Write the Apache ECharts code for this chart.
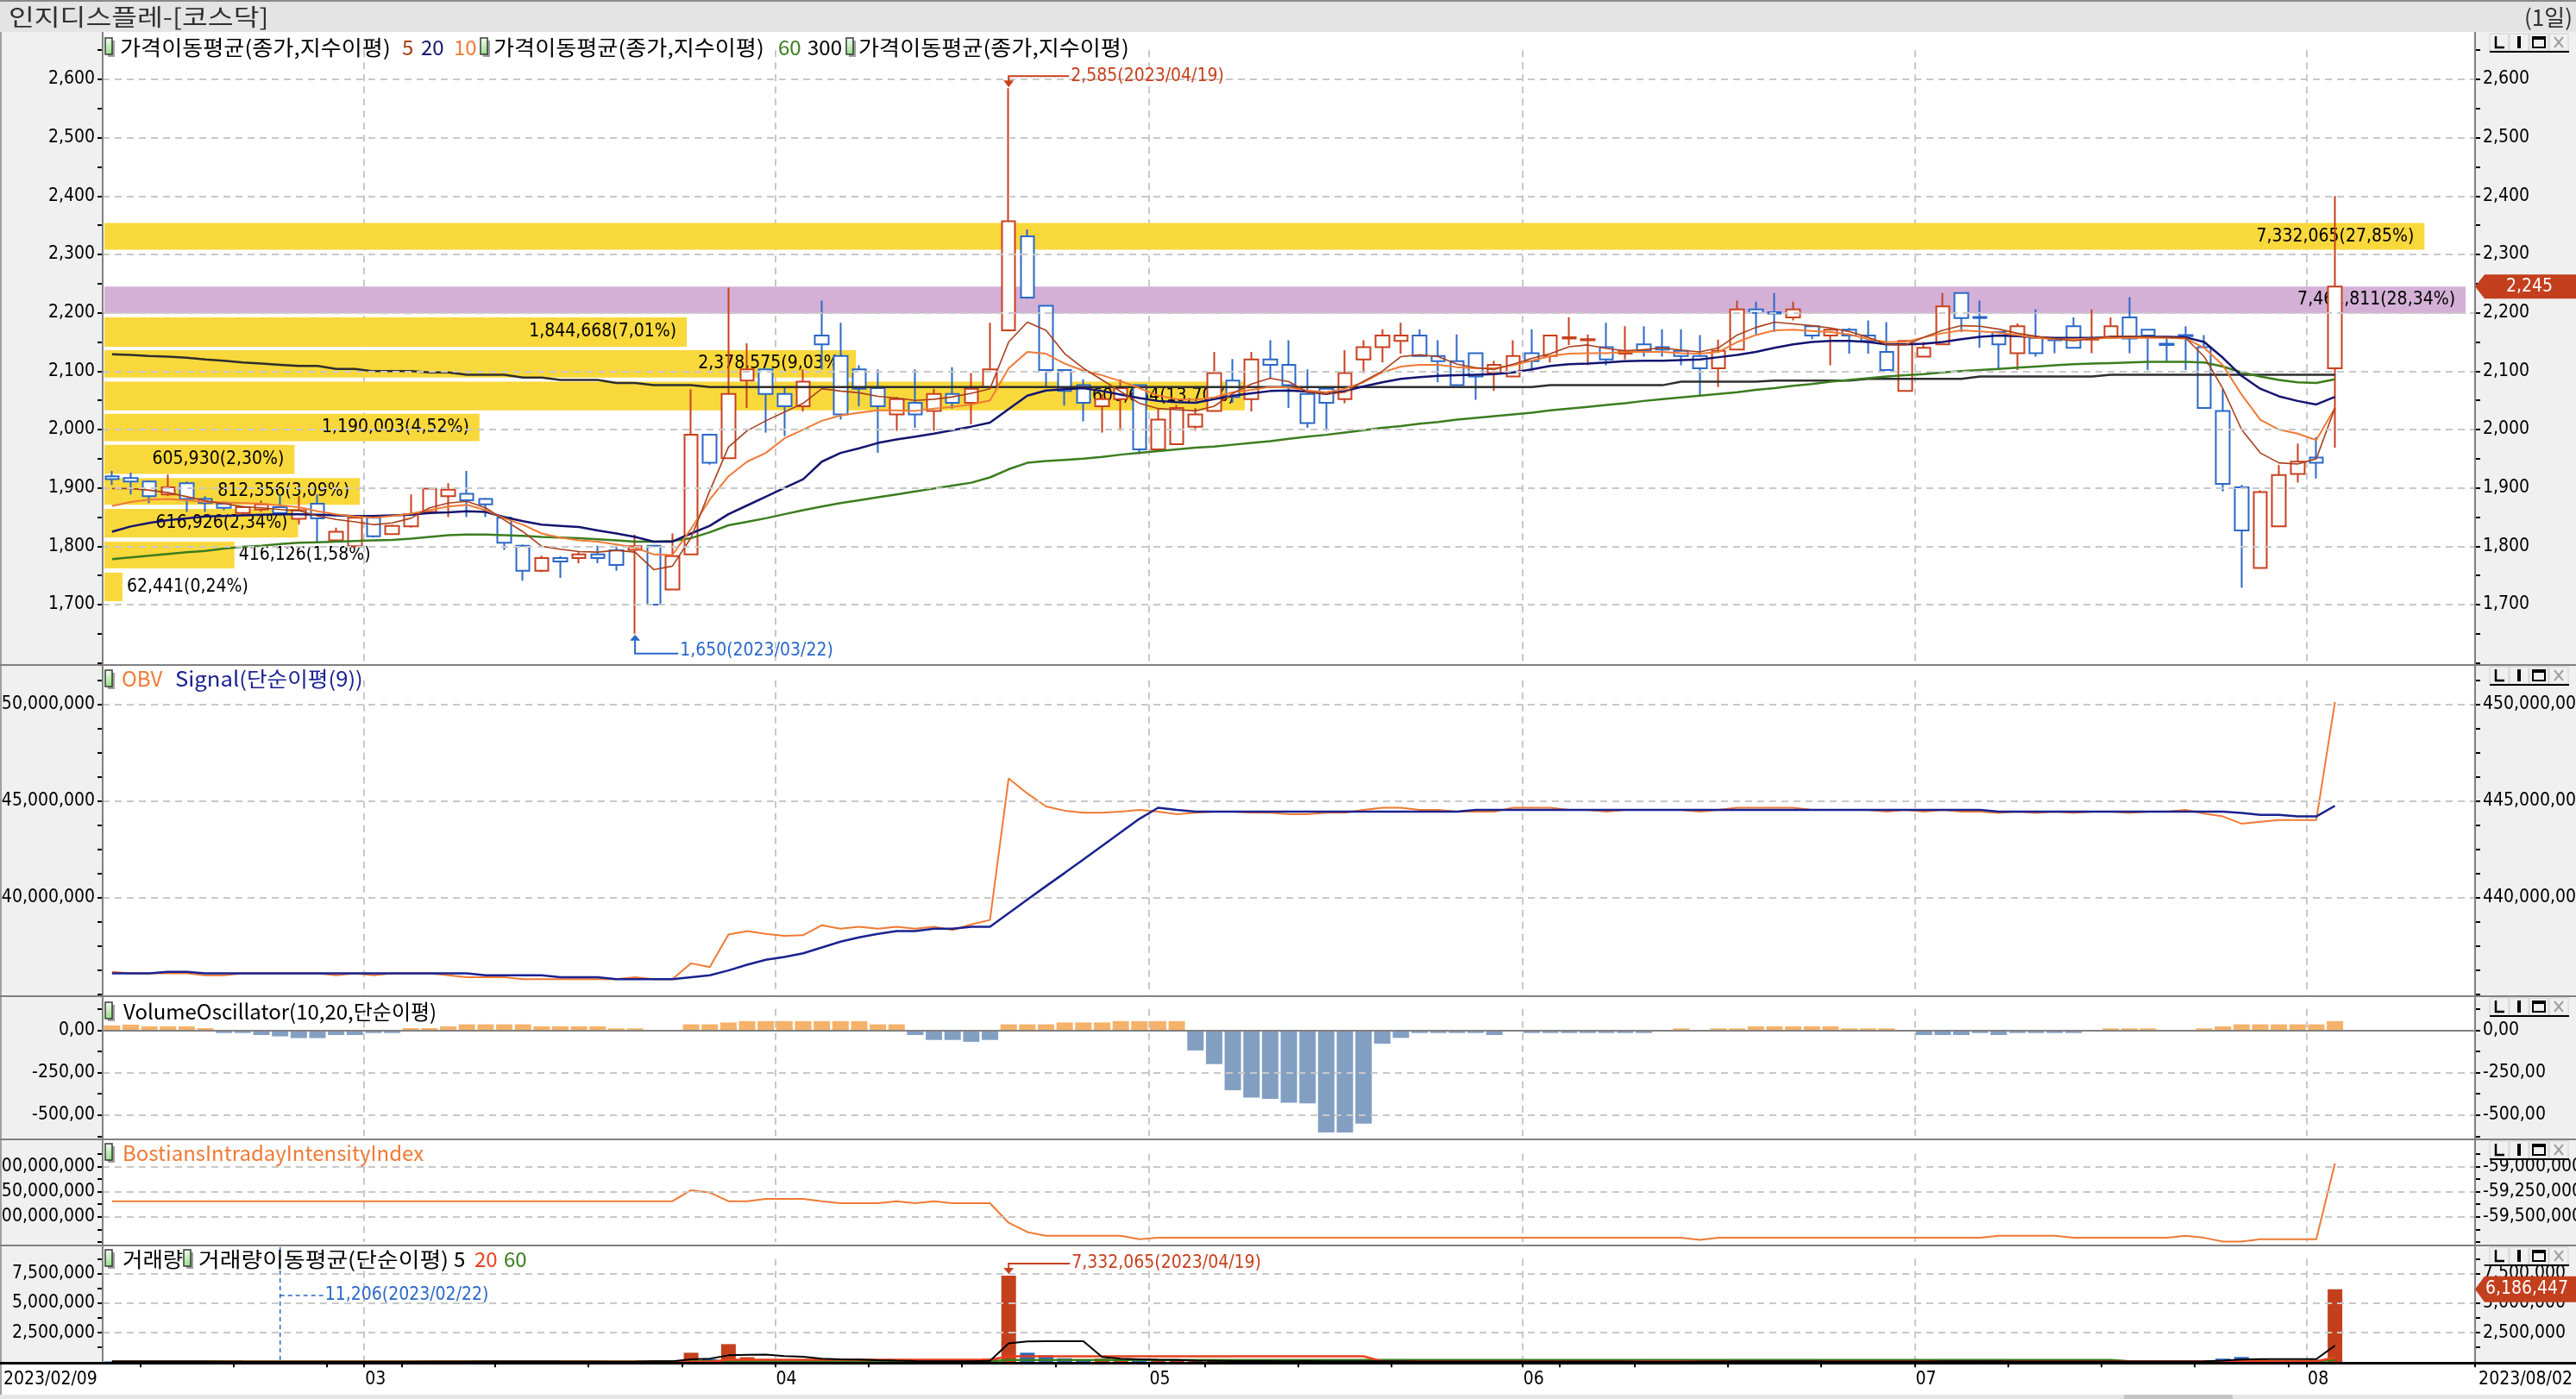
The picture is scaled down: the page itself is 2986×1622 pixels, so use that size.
<!DOCTYPE html>
<html><head><meta charset="utf-8"><title>인지디스플레-[코스닥]</title>
<script src="https://cdn.jsdelivr.net/npm/echarts@6.0.0/dist/echarts.min.js"></script>
<style>html,body{margin:0;padding:0;background:#fff;overflow:hidden;}#c{width:2986px;height:1622px;}</style>
</head><body><div id="c"></div>
<script>
// ---------------- DATA ----------------
const dates = ['2023-02-09','2023-02-10','2023-02-13','2023-02-14','2023-02-15','2023-02-16','2023-02-17','2023-02-20','2023-02-21','2023-02-22','2023-02-23','2023-02-24','2023-02-27','2023-02-28',
'2023-03-02','2023-03-03','2023-03-06','2023-03-07','2023-03-08','2023-03-09','2023-03-10','2023-03-13','2023-03-14','2023-03-15','2023-03-16','2023-03-17','2023-03-20','2023-03-21','2023-03-22','2023-03-23','2023-03-24','2023-03-27','2023-03-28','2023-03-29','2023-03-30','2023-03-31',
'2023-04-03','2023-04-04','2023-04-05','2023-04-06','2023-04-07','2023-04-10','2023-04-11','2023-04-12','2023-04-13','2023-04-14','2023-04-17','2023-04-18','2023-04-19','2023-04-20','2023-04-21','2023-04-24','2023-04-25','2023-04-26','2023-04-27','2023-04-28',
'2023-05-02','2023-05-03','2023-05-04','2023-05-08','2023-05-09','2023-05-10','2023-05-11','2023-05-12','2023-05-15','2023-05-16','2023-05-17','2023-05-18','2023-05-19','2023-05-22','2023-05-23','2023-05-24','2023-05-25','2023-05-26','2023-05-30','2023-05-31',
'2023-06-01','2023-06-02','2023-06-05','2023-06-07','2023-06-08','2023-06-09','2023-06-12','2023-06-13','2023-06-14','2023-06-15','2023-06-16','2023-06-19','2023-06-20','2023-06-21','2023-06-22','2023-06-23','2023-06-26','2023-06-27','2023-06-28','2023-06-29','2023-06-30',
'2023-07-03','2023-07-04','2023-07-05','2023-07-06','2023-07-07','2023-07-10','2023-07-11','2023-07-12','2023-07-13','2023-07-14','2023-07-17','2023-07-18','2023-07-19','2023-07-20','2023-07-21','2023-07-24','2023-07-25','2023-07-26','2023-07-27','2023-07-28','2023-07-31',
'2023-08-01','2023-08-02'];

const open = [1920,1917,1911,1889,1908,1881,1873,1857,1863,1867,
1847,1873,1810,1800,1849,1821,1834,1859,1886,1890,
1881,1849,1801,1758,1780,1780,1786,1793,1794,1801,
1726,1786,1991,1951,2084,2103,2061,2040,2161,2126,
2103,2071,2026,2046,2032,2061,2046,2073,2170,2331,
2212,2102,2076,2040,2052,2076,1966,1975,2005,2032,
2084,2052,2120,2111,2061,2070,2052,2120,2141,2152,
2161,2126,2117,2131,2097,2091,2131,2126,2156,2153,
2141,2130,2146,2141,2135,2126,2105,2137,2206,2201,
2192,2177,2161,2171,2161,2133,2066,2125,2146,2234,
2193,2167,2131,2157,2155,2177,2154,2157,2192,2171,
2147,2162,2141,2032,1901,1763,1834,1924,1952,2105];
const high = [1929,1926,1913,1923,1911,1886,1877,1869,1878,1889,
1886,1889,1832,1850,1852,1837,1889,1900,1908,1929,
1883,1851,1803,1784,1783,1790,1801,1801,1820,1802,
1822,2069,1993,2243,2148,2104,2071,2103,2221,2183,
2110,2103,2056,2103,2070,2107,2097,2183,2585,2343,
2213,2103,2086,2061,2086,2077,2037,2042,2037,2133,
2121,2133,2153,2153,2103,2071,2136,2153,2172,2183,
2172,2153,2163,2132,2118,2153,2172,2162,2192,2163,
2183,2177,2177,2172,2172,2162,2154,2221,2219,2234,
2219,2178,2174,2174,2187,2184,2153,2150,2234,2235,
2221,2168,2182,2206,2156,2192,2206,2192,2227,2172,
2157,2177,2162,2069,1905,1896,1939,1976,1987,2400];
const low = [1905,1889,1874,1886,1859,1859,1862,1852,1859,1852,
1837,1808,1808,1798,1815,1820,1832,1855,1850,1850,
1850,1794,1741,1756,1746,1771,1771,1758,1650,1700,
1725,1785,1940,1950,2037,1995,1989,2031,2103,2017,
2040,1960,1998,2003,1998,2036,2009,2072,2168,2224,
2073,2041,2014,1995,1998,1958,1965,1974,1998,2031,
2046,2031,2088,2037,2003,1998,2045,2097,2115,2130,
2125,2081,2075,2051,2066,2090,2101,2115,2145,2110,
2110,2120,2125,2125,2110,2059,2073,2136,2162,2167,
2187,2155,2110,2130,2130,2102,2065,2124,2145,2167,
2140,2102,2102,2125,2131,2139,2131,2156,2131,2102,
2115,2102,2036,1894,1729,1762,1833,1909,1916,1969];
const close = [1915,1911,1886,1901,1881,1874,1866,1867,1872,1857,
1862,1848,1825,1849,1817,1835,1855,1899,1897,1879,
1872,1806,1758,1780,1774,1786,1780,1768,1800,1700,
1783,1991,1943,2061,2103,2061,2040,2082,2146,2026,
2070,2040,2052,2026,2061,2046,2070,2103,2357,2226,
2102,2066,2046,2052,2071,1966,2017,2037,2026,2097,
2056,2120,2111,2076,2011,2046,2097,2141,2161,2161,
2126,2117,2076,2091,2111,2126,2117,2161,2158,2155,
2120,2135,2135,2137,2126,2105,2135,2206,2200,2199,
2206,2161,2171,2161,2152,2102,2152,2140,2211,2191,
2191,2146,2177,2131,2153,2140,2156,2177,2156,2161,
2145,2160,2037,1907,1827,1893,1922,1945,1943,2245];

// price moving averages (종가, 지수이평)
const ma5 = [1899,1899,1896,1892,1885,1878,1873,1868,1866,1863,
1861,1852,1846,1842,1837,1840,1848,1866,1874,1877,
1866,1845,1825,1800,1795,1791,1790,1793,1790,1760,
1766,1815,1895,1970,1998,2015,2030,2045,2070,2066,
2063,2057,2054,2050,2052,2056,2062,2070,2150,2184,
2170,2130,2105,2085,2065,2045,2036,2034,2032,2040,
2062,2078,2088,2082,2064,2061,2064,2083,2100,2125,
2128,2125,2112,2106,2103,2112,2122,2130,2142,2145,
2139,2135,2137,2140,2136,2133,2140,2162,2175,2184,
2181,2178,2174,2168,2158,2146,2145,2158,2170,2178,
2177,2172,2165,2160,2156,2152,2156,2160,2160,2159,
2158,2157,2125,2070,2000,1960,1943,1941,1950,2037];
const ma10 = [1869,1876,1880,1881,1879,1876,1875,1874,1873,1870,
1867,1860,1855,1851,1849,1852,1856,1862,1868,1871,
1862,1848,1837,1822,1815,1810,1808,1803,1798,1786,
1785,1830,1880,1920,1945,1960,1985,2000,2015,2024,
2029,2033,2033,2032,2036,2039,2043,2050,2105,2133,
2130,2113,2101,2093,2083,2071,2058,2052,2051,2055,
2064,2068,2073,2072,2067,2064,2070,2081,2098,2108,
2111,2111,2107,2105,2105,2110,2118,2126,2130,2131,
2131,2133,2133,2133,2131,2130,2133,2150,2162,2170,
2171,2169,2167,2163,2155,2150,2150,2158,2165,2170,
2168,2166,2162,2157,2155,2155,2156,2157,2157,2157,
2157,2156,2140,2110,2060,2017,2000,1993,1982,2037];
const ma20 = [1825,1834,1840,1845,1848,1851,1852,1853,1854,1855,
1855,1854,1853,1852,1852,1853,1854,1857,1858,1860,
1859,1850,1843,1837,1835,1833,1827,1822,1816,1808,
1808,1822,1835,1855,1870,1885,1900,1915,1945,1960,
1968,1977,1983,1988,1993,1999,2005,2012,2035,2058,
2067,2069,2071,2066,2060,2054,2049,2047,2046,2052,
2058,2062,2066,2067,2065,2061,2066,2074,2081,2087,
2090,2092,2093,2094,2095,2098,2103,2109,2112,2113,
2115,2117,2118,2118,2119,2120,2124,2128,2133,2140,
2146,2150,2152,2152,2150,2146,2146,2147,2150,2155,
2159,2161,2160,2158,2157,2157,2157,2158,2159,2159,
2159,2158,2150,2123,2092,2070,2057,2049,2043,2056];
const ma60 = [1778,1781,1784,1787,1790,1792,1796,1799,1801,1804,
1806,1807,1808,1809,1810,1811,1813,1816,1819,1820,
1820,1819,1818,1816,1815,1814,1812,1810,1808,1808,
1809,1814,1824,1836,1842,1848,1855,1862,1868,1874,
1879,1884,1889,1894,1899,1904,1909,1918,1932,1943,
1946,1948,1950,1953,1957,1960,1963,1966,1969,1971,
1974,1977,1980,1984,1988,1991,1995,1999,2003,2006,
2010,2013,2017,2020,2023,2026,2029,2033,2036,2039,
2042,2045,2049,2052,2055,2058,2061,2064,2068,2071,
2075,2078,2082,2085,2088,2091,2093,2095,2098,2100,
2102,2104,2106,2108,2110,2112,2113,2114,2115,2116,
2116,2116,2115,2108,2098,2091,2085,2081,2080,2086];
const ma300 = [2129,2128,2126,2125,2123,2120,2118,2115,2113,2111,
2109,2109,2104,2104,2100,2100,2100,2098,2098,2094,
2094,2094,2089,2089,2085,2085,2085,2080,2080,2076,
2076,2076,2073,2073,2073,2073,2073,2073,2073,2073,
2073,2073,2073,2073,2073,2073,2073,2073,2073,2073,
2073,2073,2073,2073,2073,2073,2073,2073,2073,2073,
2073,2073,2073,2073,2073,2073,2073,2073,2073,2073,
2073,2073,2073,2073,2073,2073,2073,2076,2076,2076,
2076,2076,2076,2076,2082,2082,2082,2082,2082,2084,
2084,2084,2084,2084,2087,2087,2087,2087,2087,2087,
2091,2091,2091,2091,2091,2091,2091,2094,2094,2094,
2094,2094,2094,2094,2094,2094,2094,2094,2094,2094];

// volume (shares) and its simple moving averages
const volume = [62000,85000,48000,40000,55000,30000,25000,22000,18000,11206,
24000,35000,20000,28000,30000,19000,45000,60000,52000,70000,
38000,65000,90000,30000,25000,20000,22000,35000,120000,140000,
110000,800000,250000,1530000,420000,260000,150000,210000,310000,260000,
180000,120000,90000,60000,70000,55000,80000,310000,7332065,800000,
580000,330000,210000,300000,150000,200000,120000,140000,90000,110000,
80000,95000,70000,85000,120000,60000,75000,55000,90000,70000,
50000,45000,60000,40000,55000,65000,48000,70000,62000,40000,
52000,45000,38000,42000,50000,75000,68000,120000,60000,55000,
80000,45000,50000,40000,48000,90000,85000,40000,110000,75000,
50000,70000,65000,55000,38000,60000,42000,58000,70000,45000,
40000,52000,160000,300000,440000,230000,150000,120000,200000,6186447];
const volMa5 = [52000,55000,58000,60000,58000,52000,44000,35000,28000,21000,
20000,22000,24000,25000,27000,27000,28000,34000,43000,49000,
53000,57000,63000,59000,50000,46000,37000,26000,44000,68000,
85000,240000,290000,580000,630000,640000,520000,460000,300000,240000,
220000,170000,130000,100000,75000,70000,70000,120000,1600000,1750000,
1780000,1780000,1780000,450000,300000,250000,200000,180000,130000,120000,
100000,95000,90000,85000,90000,85000,80000,75000,70000,70000,
65000,60000,55000,55000,52000,52000,52000,55000,58000,55000,
55000,52000,48000,45000,45000,50000,55000,70000,72000,75000,
75000,72000,58000,55000,52000,55000,62000,62000,75000,80000,
75000,70000,65000,62000,58000,55000,52000,55000,55000,55000,
52000,50000,80000,130000,220000,260000,260000,260000,260000,1400000];
const volMa20 = [45000,45000,45000,45000,45000,45000,45000,45000,45000,45000,
45000,45000,45000,45000,45000,45000,45000,45000,45000,45000,
45000,45000,45000,45000,45000,45000,45000,45000,45000,45000,
45000,45000,45000,200000,200000,200000,200000,200000,200000,200000,
200000,200000,200000,200000,200000,200000,200000,200000,500000,500000,
500000,500000,500000,500000,500000,500000,500000,500000,500000,500000,
500000,500000,500000,500000,500000,500000,500000,500000,70000,70000,
70000,70000,70000,70000,70000,70000,70000,70000,70000,70000,
70000,70000,70000,70000,70000,70000,70000,70000,70000,70000,
70000,70000,70000,70000,70000,70000,70000,70000,70000,70000,
70000,70000,70000,70000,70000,70000,70000,70000,70000,70000,
70000,70000,70000,70000,70000,70000,70000,70000,70000,380000];
const volMa60 = [70000,70000,70000,70000,70000,70000,70000,70000,70000,70000,
70000,70000,70000,70000,70000,70000,70000,70000,70000,70000,
70000,70000,70000,70000,70000,70000,70000,70000,70000,70000,
70000,70000,70000,70000,70000,70000,70000,70000,70000,70000,
70000,70000,70000,70000,70000,70000,70000,70000,190000,190000,
190000,190000,190000,190000,190000,190000,190000,190000,190000,190000,
190000,190000,190000,190000,190000,190000,190000,190000,190000,190000,
190000,190000,190000,190000,190000,190000,190000,190000,190000,190000,
190000,190000,190000,190000,190000,190000,190000,190000,190000,190000,
190000,190000,190000,190000,190000,190000,190000,190000,190000,190000,
190000,190000,190000,190000,190000,190000,190000,190000,80000,80000,
80000,80000,80000,80000,80000,80000,80000,80000,80000,180000];

// OBV and its signal, in millions of shares
const obvMillions = [436.18,436.10,436.10,436.10,436.10,436.00,436.00,436.10,436.10,436.10,
436.10,436.10,436.00,436.10,436.00,436.10,436.10,436.10,436.00,435.90,
435.90,435.90,435.80,435.80,435.80,435.80,435.80,435.80,435.90,435.80,
435.80,436.62,436.42,438.11,438.29,438.14,438.04,438.07,438.59,438.41,
438.51,438.41,438.51,438.41,438.51,438.34,438.63,438.86,446.18,445.40,
444.73,444.51,444.40,444.40,444.46,444.55,444.46,444.33,444.40,444.46,
444.46,444.40,444.40,444.33,444.33,444.40,444.40,444.55,444.66,444.66,
444.55,444.55,444.46,444.46,444.46,444.66,444.66,444.66,444.55,444.55,
444.46,444.55,444.55,444.55,444.55,444.46,444.55,444.66,444.66,444.66,
444.66,444.55,444.55,444.55,444.55,444.46,444.55,444.46,444.55,444.46,
444.46,444.39,444.46,444.39,444.46,444.39,444.46,444.46,444.39,444.46,
444.46,444.55,444.36,444.21,443.84,443.94,444.03,444.03,444.03,450.13];
const obvSignalMillions = [436.10,436.10,436.10,436.18,436.18,436.10,436.10,436.10,436.10,436.10,
436.10,436.10,436.10,436.10,436.10,436.10,436.10,436.10,436.10,436.10,
436.00,436.00,436.00,436.00,435.90,435.90,435.90,435.80,435.80,435.80,
435.80,435.90,436.00,436.25,436.55,436.80,436.95,437.14,437.44,437.74,
437.96,438.14,438.29,438.29,438.41,438.41,438.51,438.51,439.21,439.91,
440.61,441.29,441.99,442.69,443.39,444.09,444.66,444.55,444.46,444.46,
444.46,444.46,444.46,444.46,444.46,444.46,444.46,444.46,444.46,444.46,
444.46,444.46,444.46,444.55,444.55,444.55,444.55,444.55,444.55,444.55,
444.55,444.55,444.55,444.55,444.55,444.55,444.55,444.55,444.55,444.55,
444.55,444.55,444.55,444.55,444.55,444.55,444.55,444.55,444.55,444.55,
444.55,444.46,444.46,444.46,444.46,444.46,444.46,444.46,444.46,444.46,
444.46,444.46,444.46,444.46,444.39,444.29,444.29,444.21,444.21,444.76];

// Volume oscillator (10,20)
const volOsc = [28,32,22,22,22,12,-17,-17,-29,-37,
-47,-47,-29,-29,-17,-17,12,12,22,34,
34,34,34,22,22,22,22,10,10,0,
0,34,34,45,53,53,53,53,53,53,
53,34,34,-29,-58,-58,-69,-58,34,34,
34,45,45,45,53,53,53,53,-120,-200,
-354,-397,-405,-428,-432,-603,-603,-551,-80,-46,
-17,-17,-17,-17,-29,0,-17,-17,-17,-17,
-17,-17,-17,0,10,0,10,10,22,22,
22,22,22,10,10,10,0,-29,-29,-29,
-17,-29,-17,-17,-17,-17,0,10,10,10,
0,0,10,22,34,34,34,34,34,53];

// Bostian's Intraday Intensity Index, in millions
const biiMillions = [-59346,-59346,-59346,-59346,-59346,-59346,-59346,-59346,-59346,-59346,
-59346,-59346,-59346,-59346,-59346,-59346,-59346,-59346,-59346,-59346,
-59346,-59346,-59346,-59346,-59346,-59346,-59346,-59346,-59346,-59346,
-59346,-59237,-59260,-59346,-59346,-59323,-59323,-59323,-59346,-59366,
-59366,-59366,-59346,-59366,-59346,-59366,-59366,-59366,-59560,-59652,
-59689,-59689,-59689,-59689,-59689,-59723,-59709,-59709,-59709,-59709,
-59709,-59709,-59709,-59709,-59709,-59709,-59709,-59709,-59709,-59709,
-59709,-59709,-59709,-59709,-59709,-59709,-59709,-59709,-59709,-59709,
-59709,-59709,-59709,-59709,-59709,-59729,-59709,-59709,-59709,-59709,
-59709,-59709,-59709,-59709,-59709,-59709,-59709,-59709,-59709,-59709,
-59709,-59689,-59689,-59689,-59689,-59709,-59709,-59709,-59709,-59709,
-59709,-59689,-59709,-59746,-59746,-59723,-59723,-59723,-59723,-58970];

// price-by-volume profile (bands of close price)
const profileLow  = [1706,1762,1815,1871,1924,1980,2033,2089,2142,2199,2308];
const profileHigh = [1755,1808,1864,1917,1974,2027,2082,2136,2192,2245,2354];
const profileVol  = [62441,416126,616926,812356,605930,1190003,3606664,2378575,1844668,7461811,7332065];
const profilePct  = ['0,24','1,58','2,34','3,09','2,30','4,52','13,70','9,03','7,01','28,34','27,85'];

// axis grid-line values
const priceGridLines = [1700,1800,1900,2000,2100,2200,2300,2400,2500,2600];
const obvGridLines = [440,445,450];
const voGridLines = [-250,-500];
const biiGridLines = [-59000,-59250,-59500];
const volGridLines = [2500000,5000000,7500000];

// ---------------- STYLE / LAYOUT ----------------
function hasFont(name) {
  const c = document.createElement('canvas').getContext('2d');
  const s = 'mmmmmlli0123456789,/(';
  c.font = '72px monospace'; const a = c.measureText(s).width;
  c.font = "72px '" + name + "', monospace"; const b = c.measureText(s).width;
  c.font = '72px serif'; const a2 = c.measureText(s).width;
  c.font = "72px '" + name + "', serif"; const b2 = c.measureText(s).width;
  return Math.abs(a - b) > 0.5 || Math.abs(a2 - b2) > 0.5;
}
let NUMFAM, NUMSIZE;
if (hasFont('Liberation Sans Narrow')) { NUMFAM = "'Liberation Sans Narrow','Noto Sans CJK KR',sans-serif"; NUMSIZE = 26; }
else if (hasFont('DejaVu Sans Condensed')) { NUMFAM = "'DejaVu Sans Condensed','Noto Sans CJK KR',sans-serif"; NUMSIZE = 21; }
else { NUMFAM = "'Noto Sans CJK KR',sans-serif"; NUMSIZE = 22; }
const NUMF = NUMSIZE + 'px ' + NUMFAM;
const KF = "24px 'Noto Sans CJK KR',sans-serif";

const RED = '#c8401e', BLUE = '#2a68c8', ORANGE = '#f07a35', NAVY = '#141470', GREEN = '#3c7d1e';
const YELLOW = '#f9d83c', PURPLE = '#d4b0d6';
const fmt = v => Math.round(v).toLocaleString('en-US');
const slash = d => d.replace(/-/g, '/');

const W = 2986, PL = 119, PR = 2869, PW = PR - PL;
const N = dates.length, PADCATS = 7;
const cats = dates.concat(new Array(PADCATS).fill(''));

const monthStart = new Set();
dates.forEach((d, i) => { if (i > 0 && d.slice(5, 7) !== dates[i - 1].slice(5, 7)) monthStart.add(i); });
const tickIdx = new Set(monthStart);
dates.forEach((d, i) => { if (new Date(d + 'T00:00:00Z').getUTCDay() === 1) tickIdx.add(i); });

const GR = [
  {top: 58.2, bottom: 768.7},    // price 2650..1600
  {top: 788.7, bottom: 1153.2},  // obv 451.25..435 M
  {top: 1169.7, bottom: 1317.3}, // vol osc 125..-625
  {top: 1337.7, bottom: 1439.9}, // BII -58875..-59750 M
  {top: 1459.6, bottom: 1579.3}, // volume 8.75M..0
  {top: 58.2, bottom: 768.7}     // profile overlay
];
const PROFILE_MAX = 7491777;

function catAxis(gi, bottom) {
  return {
    type: 'category', gridIndex: gi, data: cats, boundaryGap: true,
    axisLine: {show: false}, axisLabel: {show: false},
    axisTick: bottom ? {show: true, interval: (i) => tickIdx.has(i), length: 6, lineStyle: {color: '#000', width: 2}} : {show: false},
    splitLine: {show: true, interval: (i) => monthStart.has(i), lineStyle: {color: '#c8c8c8', width: 2, type: [8, 6]}}
  };
}
function valAxis(gi, pos, min, max, interval, f) {
  return {
    type: 'value', gridIndex: gi, position: pos, min, max, interval, scale: false,
    axisLine: {show: false},
    axisTick: {show: true, length: 6, lineStyle: {color: '#000', width: 2}},
    axisLabel: {show: true, color: '#000', fontFamily: NUMFAM, fontSize: NUMSIZE, margin: 9, formatter: f, hideOverlap: false, showMinLabel: true, showMaxLabel: true},
    splitLine: {show: false}
  };
}
const near = (a, b) => Math.abs(a - b) < 1e-6;
const fP = v => (v % 100 === 0 && v >= 1700 && v <= 2600) ? fmt(v) : '';
const fO = v => { const r = Math.round(v * 100) / 100; return (near(r % 5, 0) && r >= 440 && r <= 450) ? fmt(r * 1e6) : ''; };
const fV = v => (v % 250 === 0 && v <= 0 && v >= -500) ? (fmt(v) + ',00') : '';
const fB = v => (v % 250 === 0 && v <= -59000 && v >= -59500) ? fmt(v * 1e6) : '';
const fVol = v => (v % 2500000 === 0 && v > 0 && v <= 7500000) ? fmt(v) : '';

function gridML(vals, extra) {
  return {
    silent: true, symbol: ['none', 'none'], label: {show: false}, animation: false,
    emphasis: {disabled: true},
    lineStyle: {color: '#c8c8c8', width: 2, type: [8, 6]},
    data: (extra || []).concat(vals.map(v => ({yAxis: v})))
  };
}

const mctx = document.createElement('canvas').getContext('2d');
function measure(t) { mctx.font = NUMF; return mctx.measureText(t).width; }
const maxProfile = Math.max(...profileVol);

function renderProfile(params, api) {
  const k = api.value(3);
  const v = api.value(0), lo = api.value(1), hi = api.value(2);
  const a = api.coord([0, hi]), b = api.coord([v, lo]);
  const w = b[0] - a[0], h = b[1] - a[1];
  const label = fmt(profileVol[k]) + '(' + profilePct[k] + '%)';
  const tw = measure(label);
  const inside = w > tw + 24;
  return {type: 'group', children: [
    {type: 'rect', shape: {x: a[0] + 2, y: a[1], width: w - 2, height: h}, style: {fill: profileVol[k] === maxProfile ? PURPLE : YELLOW}},
    {type: 'text', style: {text: label, x: inside ? b[0] - 12 : b[0] + 5, y: (a[1] + b[1]) / 2, align: inside ? 'right' : 'left', verticalAlign: 'middle', fill: '#000', font: NUMF}}
  ]};
}

const lineS = (name, xi, yi, data, color, width, z) => ({
  type: 'line', name, xAxisIndex: xi, yAxisIndex: yi, data, symbol: 'none', showSymbol: false, silent: true, z: z || 4,
  lineStyle: {color, width}, itemStyle: {color}, emphasis: {disabled: true}
});

const option = {
  animation: false,
  backgroundColor: '#ffffff',
  grid: GR.map(g => ({left: PL, width: PW, top: g.top, height: g.bottom - g.top, containLabel: false, outerBoundsMode: 'none'})),
  xAxis: [catAxis(0, false), catAxis(1, false), catAxis(2, false), catAxis(3, false), catAxis(4, true),
    {type: 'value', gridIndex: 5, min: 0, max: PROFILE_MAX, show: false}],
  yAxis: [
    valAxis(0, 'left', 1600, 2650, 50, fP), valAxis(0, 'right', 1600, 2650, 50, fP),
    valAxis(1, 'left', 435, 451.25, 1.25, fO), valAxis(1, 'right', 435, 451.25, 1.25, fO),
    valAxis(2, 'left', -625, 125, 125, fV), valAxis(2, 'right', -625, 125, 125, fV),
    valAxis(3, 'left', -59750, -58875, 125, fB), valAxis(3, 'right', -59750, -58875, 125, fB),
    valAxis(4, 'left', 0, 8750000, 1250000, fVol), valAxis(4, 'right', 0, 8750000, 1250000, fVol),
    {type: 'value', gridIndex: 5, min: 1600, max: 2650, show: false}
  ],
  series: [
    {type: 'custom', name: 'profile', xAxisIndex: 5, yAxisIndex: 10, z: 1, silent: true, clip: false,
      renderItem: renderProfile, data: profileVol.map((v, k) => [v, profileLow[k], profileHigh[k], k])},
    {type: 'line', name: 'priceGrid', xAxisIndex: 0, yAxisIndex: 0, z: 2, silent: true, symbol: 'none',
      data: dates.map(() => null), markLine: gridML(priceGridLines)},
    {type: 'candlestick', name: 'price', xAxisIndex: 0, yAxisIndex: 0, z: 3, silent: true, barWidth: 16,
      data: dates.map((d, i) => [open[i], close[i], low[i], high[i]]),
      itemStyle: {color: '#ffffff', color0: '#ffffff', borderColor: RED, borderColor0: BLUE, borderWidth: 2}},
    lineS('MA300', 0, 0, ma300, '#2e2e2e', 2.5),
    lineS('MA60', 0, 0, ma60, GREEN, 2.5),
    lineS('MA20', 0, 0, ma20, NAVY, 2.5),
    lineS('MA10', 0, 0, ma10, ORANGE, 2),
    lineS('MA5', 0, 0, ma5, '#a8401c', 1.6),
    Object.assign(lineS('OBV', 1, 2, obvMillions, ORANGE, 2, 3), {markLine: gridML(obvGridLines)}),
    lineS('Signal', 1, 2, obvSignalMillions, '#1a2290', 2.5, 4),
    {type: 'bar', name: 'VolumeOscillator', xAxisIndex: 2, yAxisIndex: 4, z: 3, silent: true, barWidth: 19,
      data: volOsc.map(v => ({value: v, itemStyle: {color: v >= 0 ? '#f5b26a' : '#829fc2'}})),
      markLine: gridML(voGridLines, [{yAxis: 0, lineStyle: {type: 'solid', color: '#808080', width: 2}}])},
    Object.assign(lineS('BII', 3, 6, biiMillions, ORANGE, 2, 3), {markLine: gridML(biiGridLines)}),
    {type: 'bar', name: 'volume', xAxisIndex: 4, yAxisIndex: 8, z: 3, silent: true, barWidth: 17,
      data: volume.map((v, i) => ({value: v, itemStyle: {color: close[i] >= open[i] ? '#c4401c' : '#2a68c0'}})),
      markLine: gridML(volGridLines)},
    lineS('volMA60', 4, 8, volMa60, GREEN, 2.5, 4),
    lineS('volMA20', 4, 8, volMa20, '#e8401c', 2.5, 4),
    lineS('volMA5', 4, 8, volMa5, '#000000', 2, 4)
  ]
};

const chart = echarts.init(document.getElementById('c'), null, {renderer: 'canvas'});
chart.setOption(option);

// ---------------- OVERLAY GRAPHICS ----------------
const px = (si, i, v) => chart.convertToPixel({seriesIndex: si}, [i, v]);
const els = [];
const rect = (x, y, w, h, fill, z) => ({type: 'rect', z: z, shape: {x, y, width: w, height: h}, style: {fill}});
const txt = (x, y, s, color, font, align, z, sx) => ({type: 'text', x, y, z: z || 55, scaleX: sx || 1, style: {text: s, fill: color, font, align: align || 'left', verticalAlign: 'middle'}});
const pline = (pts, color, width, z, dash) => ({type: 'polyline', z: z || 50, shape: {points: pts}, style: {stroke: color, lineWidth: width, fill: null, lineDash: dash || null}});
const poly = (pts, color, z) => ({type: 'polygon', z: z || 50, shape: {points: pts}, style: {fill: color}});

// side columns and frame
els.push(rect(0, 37, PL, 1543, '#f0f0f0', -10));
els.push(rect(PR, 37, W - PR, 1543, '#f0f0f0', -10));
els.push(rect(0, 0, 2, 1622, '#a0a0a0', 40));
els.push(rect(PL - 1, 37, 2, 1543, '#808080', 40));
els.push(rect(PR - 1, 37, 2, 1543, '#808080', 40));
[771, 1155, 1321, 1444].forEach(y => els.push(rect(0, y - 1, W, 2, '#808080', 40)));
els.push(rect(0, 1579, W, 3, '#000000', 40));
els.push(rect(0, 1617, W, 5, '#e6e6e6', 40));
els.push(rect(2462, 1617, 126, 5, '#c4c4c4', 41));

// title bar
els.push(rect(0, 0, W, 37, '#e4e4e4', 100));
els.push(rect(0, 0, W, 2, '#8a8a8a', 101));
els.push(txt(10, 20, '인지디스플레-[코스닥]', '#303030', "27px 'Noto Sans CJK KR',sans-serif", 'left', 102, 1.2));
els.push(txt(2982, 20, '(1일)', '#303030', "26px 'Noto Sans CJK KR',sans-serif", 'right', 102));

// legend icons and texts
function icon(x, y) {
  return [
    {type: 'rect', z: 60, shape: {x: x + 3, y: y + 3, width: 8, height: 19}, style: {fill: '#a0a0a0'}},
    {type: 'rect', z: 61, shape: {x: x, y: y, width: 8, height: 19}, style: {fill: {type: 'linear', x: 0, y: 0, x2: 1, y2: 1, colorStops: [{offset: 0, color: '#ffffff'}, {offset: 1, color: '#8fd880'}]}, stroke: '#2f3f2f', lineWidth: 1.5}}
  ];
}
els.push(...icon(122, 44));
els.push(txt(139, 55, '가격이동평균(종가,지수이평)', '#000', KF, 'left', 55, 1.09));
els.push(txt(466, 55, '5', '#a8401c', KF));
els.push(txt(488, 55, '20', NAVY, KF));
els.push(txt(526, 55, '10', ORANGE, KF));
els.push(...icon(557, 44));
els.push(txt(572, 55, '가격이동평균(종가,지수이평)', '#000', KF, 'left', 55, 1.09));
els.push(txt(902, 55, '60', GREEN, KF));
els.push(txt(936, 55, '300', '#000', KF));
els.push(...icon(981, 44));
els.push(txt(995, 55, '가격이동평균(종가,지수이평)', '#000', KF, 'left', 55, 1.09));

els.push(...icon(122, 777));
els.push(txt(141, 787, 'OBV', ORANGE, KF));
els.push(txt(203, 787, 'Signal(단순이평(9))', '#1a2290', KF, 'left', 55, 1.07));
els.push(...icon(122, 1162));
els.push(txt(143, 1173, 'VolumeOscillator(10,20,단순이평)', '#000', KF));
els.push(...icon(122, 1326));
els.push(txt(142, 1337, 'BostiansIntradayIntensityIndex', ORANGE, KF));
els.push(...icon(122, 1449));
els.push(txt(142, 1460, '거래량', '#000', KF, 'left', 55, 1.06));
els.push(...icon(213, 1449));
els.push(txt(230, 1460, '거래량이동평균(단순이평)', '#000', KF, 'left', 55, 1.12));
els.push(txt(526, 1460, '5', '#000', KF));
els.push(txt(550, 1460, '20', '#e8401c', KF));
els.push(txt(584, 1460, '60', GREEN, KF));

// window buttons
function buttons(y) {
  const x0 = 2886, out = [];
  for (let k = 0; k < 4; k++) out.push({type: 'rect', z: 70, shape: {x: x0 + k * 23, y: y, width: 22, height: 20}, style: {fill: '#f0f0f0', stroke: '#d0d0d0', lineWidth: 1}});
  out.push(pline([[x0 + 7, y + 3], [x0 + 7, y + 16], [x0 + 17, y + 16]], '#000', 2.5, 71));
  out.push(rect(x0 + 23 + 9, y + 3, 4, 14, '#000', 71));
  out.push({type: 'rect', z: 71, shape: {x: x0 + 46 + 4, y: y + 4, width: 14, height: 12}, style: {fill: null, stroke: '#000', lineWidth: 2}});
  out.push(rect(x0 + 46 + 4, y + 4, 14, 3, '#000', 71));
  out.push(pline([[x0 + 69 + 6, y + 4], [x0 + 69 + 16, y + 16]], '#a0a0a0', 2, 71));
  out.push(pline([[x0 + 69 + 16, y + 4], [x0 + 69 + 6, y + 16]], '#a0a0a0', 2, 71));
  out.push(rect(x0, y + 20, 92, 2, '#000', 71));
  return out;
}
[39, 773, 1157, 1323, 1446].forEach(y => els.push(...buttons(y)));

// bottom date labels
const bw = px(2, 1, 2000)[0] - px(2, 0, 2000)[0];
els.push(txt(4, 1600, slash(dates[0]), '#000', NUMF, 'left'));
monthStart.forEach(i => {
  const x = px(2, i, 2000)[0] - bw / 2;
  els.push(txt(x + 1, 1600, dates[i].slice(5, 7), '#000', NUMF, 'left'));
});
els.push(txt(2982, 1600, slash(dates[N - 1]), '#000', NUMF, 'right'));

// highest price annotation
const iHi = high.indexOf(Math.max(...high));
{
  const [x, y] = px(2, iHi, high[iHi]);
  els.push(pline([[x, y - 8], [x, y - 14], [x + 70, y - 14]], RED, 2));
  els.push(poly([[x - 6, y - 9], [x + 6, y - 9], [x, y - 1]], RED));
  els.push(txt(x + 72, y - 14, fmt(high[iHi]) + '(' + slash(dates[iHi]) + ')', RED, NUMF));
}
// lowest price annotation
const iLo = low.indexOf(Math.min(...low));
{
  const [x, y] = px(2, iLo, low[iLo]);
  els.push(poly([[x - 6, y + 8], [x + 6, y + 8], [x, y + 1]], BLUE));
  els.push(pline([[x, y + 8], [x, y + 23], [x + 50, y + 23]], BLUE, 2));
  els.push(txt(x + 52, y + 20, fmt(low[iLo]) + '(' + slash(dates[iLo]) + ')', BLUE, NUMF));
}
// max volume annotation
const iVh = volume.indexOf(Math.max(...volume));
{
  const [x, y] = px(12, iVh, volume[iVh]);
  els.push(poly([[x - 6, y - 9], [x + 6, y - 9], [x, y - 2]], RED));
  els.push(pline([[x, y - 9], [x, y - 14], [x + 71, y - 14]], RED, 2));
  els.push(txt(x + 73, y - 14, fmt(volume[iVh]) + '(' + slash(dates[iVh]) + ')', RED, NUMF));
}
// min volume annotation
const iVl = volume.indexOf(Math.min(...volume));
{
  const x = px(12, iVl, 0)[0];
  els.push(pline([[x, 1446], [x, 1578]], BLUE, 1.5, 50, [5, 4]));
  els.push(pline([[x, 1502], [x + 50, 1502]], BLUE, 1.5, 50, [5, 4]));
  els.push(txt(x + 52, 1502, fmt(volume[iVl]) + '(' + slash(dates[iVl]) + ')', BLUE, NUMF));
}
// last price tag
{
  const y = px(2, N - 1, close[N - 1])[1];
  els.push(poly([[PR, y], [PR + 11, y - 14], [W, y - 14], [W, y + 14], [PR + 11, y + 14]], '#c33f1d', 80));
  els.push(txt(2932, y, fmt(close[N - 1]), '#ffffff', NUMF, 'center', 81));
}
// last volume tag
{
  const y = px(12, N - 1, volume[N - 1])[1];
  els.push(poly([[PR, y], [PR + 11, y - 15], [W, y - 15], [W, y + 15], [PR + 11, y + 15]], '#c33f1d', 80));
  els.push(txt(2881, y, fmt(volume[N - 1]), '#ffffff', NUMF, 'left', 81));
}

chart.setOption({graphic: {elements: els}});
</script></body></html>
